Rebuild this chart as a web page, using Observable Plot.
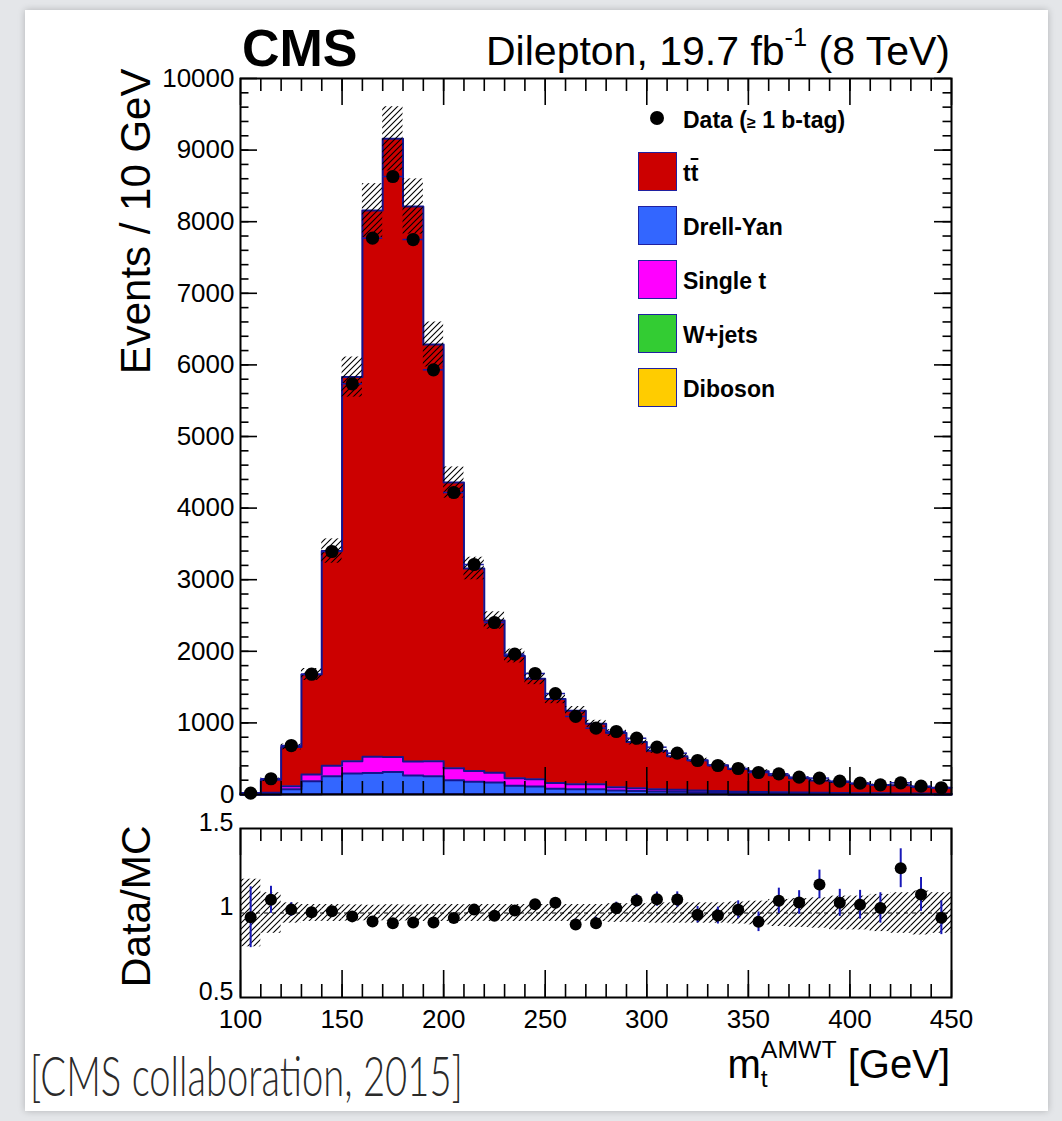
<!DOCTYPE html>
<html><head><meta charset="utf-8">
<script src="https://cdn.jsdelivr.net/npm/d3@7"></script>
<script src="https://cdn.jsdelivr.net/npm/@observablehq/plot@0.6"></script>
<style>
html,body{margin:0;padding:0;}
body{width:1062px;height:1121px;background:#e4e6e9;position:relative;overflow:hidden;font-family:"Liberation Sans",Arial,Helvetica,sans-serif;color:#000;}
#panel{position:absolute;left:25px;top:10px;width:1023px;height:1101px;background:#fff;box-shadow:0 0 7px rgba(0,0,0,0.22);}
.abs{position:absolute;white-space:nowrap;line-height:1;}
.lbox{position:absolute;width:37px;height:37px;border:1.5px solid #2020a0;}
.ltxt{position:absolute;font-weight:bold;font-size:23px;line-height:1;}
</style></head><body>
<div id="panel"></div>
<div id="main" class="abs" style="left:0;top:0"></div>
<div id="ratio" class="abs" style="left:0;top:810px"></div>
<div class="abs" style="left:242px;top:22px;font-weight:bold;font-size:52px;">CMS</div>
<div class="abs" style="right:112px;top:31px;font-size:41px;">Dilepton, 19.7 fb<span style="font-size:0.62em;position:relative;top:-0.75em;">-1</span> (8 TeV)</div>
<div id="legend"></div>
<div class="abs" style="right:112px;top:1044px;font-size:40px;">m<span style="position:relative;"><span style="font-size:0.62em;position:relative;top:-0.8em;">AMWT</span><span style="font-size:0.62em;position:absolute;left:0;top:1em;">t</span></span> [GeV]</div>
<div id="caption" class="abs" style="left:30px;top:1047px;font-family:Lato,'Open Sans',sans-serif;font-weight:300;font-size:56px;color:#2a2a2a;transform-origin:0 0;">[CMS collaboration, 2015]</div>
<script>
// ---------------- data ----------------
const binCenters = [105,115,125,135,145,155,165,175,185,195,205,215,225,235,245,255,265,275,285,295,305,315,325,335,345,355,365,375,385,395,405,415,425,435,445];
const dataCounts = [20,220,684,1680,3394,5736,7770,8631,7751,5931,4218,3212,2402,1960,1690,1410,1090,926,880,786,661,577,475,405,363,307,289,242,229,186,158,135,163,116,94];
const ttbar     = [17,179,549,1397,2998,5365,7628,8632,7752,5820,3990,2829,2127,1707,1401,1173,1026,845,757,643,536,469,422,362,317,287,239,201,172,154,131,114,113,92,84];
const drellYan  = [2,20,72,180,248,288,293,308,258,248,194,172,161,118,108,78,68,68,52,46,40,36,30,26,22,20,17,15,13,11,10,9,8,7,6];
const singleTop = [1,5,40,95,148,170,228,210,195,210,167,150,137,105,102,80,72,70,46,40,32,28,24,20,17,15,13,11,10,9,8,7,6,5,5];
const wJets     = [0,0,1,1,2,2,2,2,2,2,1,1,1,1,1,1,1,1,1,1,1,0,0,0,0,0,0,0,0,0,0,0,0,0,0];
const diboson   = [0,1,2,3,4,5,5,5,5,5,5,4,4,4,3,3,3,3,2,2,2,2,2,2,1,1,1,1,1,1,1,1,1,1,1];
const mcUnc     = [0.20,0.12,0.06,0.05,0.05,0.048,0.046,0.049,0.047,0.05,0.05,0.05,0.05,0.05,0.05,0.05,0.05,0.05,0.055,0.055,0.06,0.06,0.06,0.06,0.065,0.07,0.08,0.085,0.09,0.10,0.10,0.11,0.12,0.13,0.12];
const ratioVals = [0.975,1.078,1.02,1.005,1.01,0.98,0.95,0.94,0.944,0.944,0.97,1.02,0.983,1.015,1.052,1.06,0.932,0.94,1.028,1.074,1.082,1.08,0.99,0.985,1.019,0.948,1.072,1.062,1.169,1.06,1.049,1.03,1.265,1.11,0.972];
const ratioErr  = [0.18,0.08,0.04,0.025,0.02,0.015,0.012,0.012,0.012,0.015,0.018,0.02,0.022,0.025,0.027,0.03,0.032,0.035,0.036,0.038,0.042,0.045,0.048,0.05,0.053,0.058,0.075,0.07,0.085,0.08,0.085,0.09,0.115,0.1,0.1];

const procNames  = ["Diboson","W+jets","Drell-Yan","Single t","tt"];   // stacking order, bottom -> top
const procColors = ["#ffcc00","#33cc33","#3366ff","#ff00ff","#cc0000"];
const legendNames = ["tt","Drell-Yan","Single t","W+jets","Diboson"];
const xTicksMajor = [100,150,200,250,300,350,400,450];
const yTicksMain  = [0,1000,2000,3000,4000,5000,6000,7000,8000,9000,10000];
const yTicksRatio = [0.5,1,1.5];
const yTickLabelsRatio = ["0.5","1","1.5"];

// ---------------- tables ----------------
const procValues = [diboson, wJets, drellYan, singleTop, ttbar];
const halfBin = 5;
const lastBin = binCenters.length - 1;
const stepRows = procNames.flatMap((p, k) => [
  ...binCenters.map((c, i) => ({proc: p, x: c - halfBin, v: procValues[k][i]})),
  {proc: p, x: binCenters[lastBin] + halfBin, v: procValues[k][lastBin]}
]);
const bins = binCenters.map((c, i) => ({
  xc: c, x1: c - halfBin, x2: c + halfBin, n: dataCounts[i],
  mc: d3.sum(procValues, s => s[i]), u: mcUnc[i], r: ratioVals[i], re: ratioErr[i]
}));
const xMinor = d3.range(110, 450, 10);
const yMinorMain = d3.range(200, 10000, 200);

function hatchDefs(id) {
  return () => {
    const defs = d3.create("svg:defs");
    const pat = defs.append("pattern").attr("id", id).attr("patternUnits", "userSpaceOnUse").attr("width", 6).attr("height", 6);
    pat.append("path").attr("d", "M-1,1 L1,-1 M0,6 L6,0 M5,7 L7,5").attr("stroke", "#000").attr("stroke-width", 1.1).attr("fill", "none");
    return defs.node();
  };
}
function frameTicks(frameW, frameH, yMajor, yMinor, yMajorLen, yMinorLen) {
  const st = {stroke: "#000", strokeWidth: 1.6};
  const m = [
    Plot.ruleX(xMinor, {x: d => d, insetTop: frameH - 13, ...st}),
    Plot.ruleX(xMinor, {x: d => d, insetBottom: frameH - 13, ...st}),
    Plot.ruleX(xTicksMajor, {x: d => d, insetTop: frameH - 27, ...st}),
    Plot.ruleX(xTicksMajor, {x: d => d, insetBottom: frameH - 27, ...st})
  ];
  if (yMajor) m.push(
    Plot.ruleY(yMajor, {y: d => d, insetRight: frameW - yMajorLen, ...st}),
    Plot.ruleY(yMajor, {y: d => d, insetLeft: frameW - yMajorLen, ...st})
  );
  if (yMinor) m.push(
    Plot.ruleY(yMinor, {y: d => d, insetRight: frameW - yMinorLen, ...st}),
    Plot.ruleY(yMinor, {y: d => d, insetLeft: frameW - yMinorLen, ...st})
  );
  return m;
}

const W = 1062, mL = 240, mR = 111;
const frameW = W - mL - mR;
const font = "Liberation Sans, Arial, Helvetica, sans-serif";

// ---------------- main panel ----------------
const mainTop = 78, mainBottom = 6, mainHeight = 800;
const mainFrameH = mainHeight - mainTop - mainBottom;
const mainPlot = Plot.plot({
  width: W, height: mainHeight, marginLeft: mL, marginRight: mR, marginTop: mainTop, marginBottom: mainBottom,
  style: {background: "transparent", fontFamily: font, overflow: "visible"},
  x: {domain: [100, 450], axis: null},
  y: {domain: [0, 10000], axis: null},
  color: {domain: procNames, range: procColors},
  marks: [
    hatchDefs("hatchMain"),
    Plot.areaY(stepRows, Plot.stackY({x: "x", y: "v", z: "proc", fill: "proc", curve: "step-after"})),
    Plot.lineY(stepRows, Plot.stackY2({x: "x", y: "v", z: "proc", stroke: "#14148f", strokeWidth: 2, curve: "step-after"})),
    Plot.rectY(bins, {x1: "x1", x2: "x2", y1: d => d.mc * (1 - d.u), y2: d => d.mc * (1 + d.u), fill: "url(#hatchMain)"}),
    ...frameTicks(frameW, mainFrameH, yTicksMain, yMinorMain, 17, 8.5),
    Plot.ruleY(bins, {y: "n", x1: "x1", x2: "x2", stroke: "#1a1aa8", strokeWidth: 1.5}),
    Plot.dot(bins, {x: "xc", y: "n", r: 6.6, fill: "#000", stroke: "none"}),
    Plot.frame({stroke: "#000", strokeWidth: 2}),
    Plot.text(yTicksMain, {y: d => d, text: d => String(d), frameAnchor: "left", textAnchor: "end", dx: -6, fontSize: 26, fill: "#000"}),
    Plot.text(["Events / 10 GeV"], {text: d => d, frameAnchor: "top-left", rotate: -90, textAnchor: "end", lineAnchor: "bottom", dx: -91, dy: -10, fontSize: 42, fill: "#000"})
  ]
});
document.getElementById("main").append(mainPlot);

// ---------------- ratio panel ----------------
const rTop = 18, rBottom = 45, rHeight = 232;
const rFrameH = rHeight - rTop - rBottom;
const ratioPlot = Plot.plot({
  width: W, height: rHeight, marginLeft: mL, marginRight: mR, marginTop: rTop, marginBottom: rBottom,
  style: {background: "transparent", fontFamily: font, overflow: "visible"},
  x: {domain: [100, 450], axis: null},
  y: {domain: [0.5, 1.5], axis: null},
  marks: [
    hatchDefs("hatchRatio"),
    Plot.rectY(bins, {x1: "x1", x2: "x2", y1: d => 1 - d.u, y2: d => 1 + d.u, fill: "url(#hatchRatio)"}),
    Plot.ruleY([1], {y: d => d, stroke: "#000", strokeWidth: 1, strokeDasharray: "4,4"}),
    ...frameTicks(frameW, rFrameH, null, null, 0, 0),
    Plot.ruleX(bins, {x: "xc", y1: d => d.r - d.re, y2: d => d.r + d.re, stroke: "#1818b8", strokeWidth: 2}),
    Plot.dot(bins, {x: "xc", y: "r", r: 6, fill: "#000", stroke: "none"}),
    Plot.frame({stroke: "#000", strokeWidth: 2}),
    Plot.text(yTicksRatio, {y: d => d, text: (d, i) => yTickLabelsRatio[i], frameAnchor: "left", textAnchor: "end", dx: -7, dy: -6, fontSize: 25, fill: "#000"}),
    Plot.text(xTicksMajor, {x: d => d, text: d => String(d), frameAnchor: "bottom", dy: 30, fontSize: 26, fill: "#000"}),
    Plot.text(["Data/MC"], {text: d => d, frameAnchor: "top-left", rotate: -90, textAnchor: "end", lineAnchor: "bottom", dx: -91, dy: -3, fontSize: 41, fill: "#000"})
  ]
});
document.getElementById("ratio").append(ratioPlot);

// ---------------- legend ----------------
const legend = document.getElementById("legend");
const lx = 638, ly0 = 152, lstep = 54;
const dot = document.createElement("div");
dot.style.cssText = "position:absolute;left:650px;top:111px;width:14px;height:14px;border-radius:50%;background:#000;";
legend.append(dot);
const dl = document.createElement("div");
dl.className = "ltxt";
dl.style.cssText += "left:683px;top:109px;";
dl.innerHTML = 'Data (<span style="font-size:0.7em">≥</span> 1 b-tag)';
legend.append(dl);
legendNames.forEach((name, j) => {
  const k = procNames.indexOf(name);
  const b = document.createElement("div");
  b.className = "lbox";
  b.style.left = lx + "px";
  b.style.top = (ly0 + j * lstep) + "px";
  b.style.background = procColors[k];
  legend.append(b);
  const t = document.createElement("div");
  t.className = "ltxt";
  t.style.left = "683px";
  t.style.top = (ly0 + j * lstep + 10) + "px";
  if (name === "tt") t.innerHTML = 't<span style="text-decoration:overline">t</span>';
  else t.textContent = name;
  legend.append(t);
});

// caption width fit
const cap = document.getElementById("caption");
cap.style.transform = `scaleX(${433 / cap.offsetWidth})`;
</script>
</body></html>
